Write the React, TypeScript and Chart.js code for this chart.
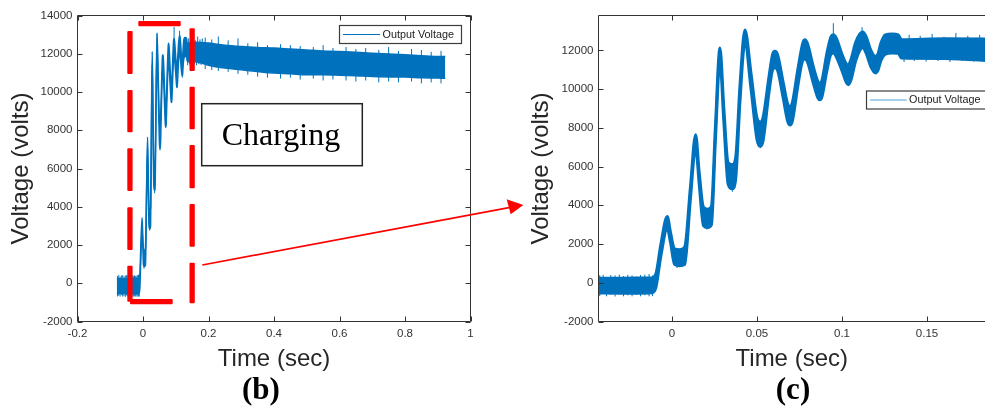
import React, { useEffect, useRef } from 'react';
import { Chart, registerables } from 'chart.js';
Chart.register(...registerables);

// ---- Data ----
// Envelope of the noisy output-voltage trace: time (s), upper edge (V), lower edge (V)
const envT = [
  -0.0797, -0.06, -0.04, -0.02, -0.012, -0.0095, -0.0066, -0.0028, -0.0008, 0.0015,
  0.0045, 0.0075, 0.0108, 0.0139, 0.016, 0.0185, 0.021, 0.0232, 0.0255, 0.0282,
  0.0305, 0.033, 0.0355, 0.0375, 0.04, 0.0429, 0.0465, 0.05, 0.0518, 0.0535,
  0.057, 0.0592, 0.0606, 0.0622, 0.0655, 0.068, 0.0694, 0.0708, 0.074, 0.077,
  0.0782, 0.0797, 0.083, 0.0858, 0.087, 0.0882, 0.091, 0.0935, 0.0949, 0.0965,
  0.1, 0.1025, 0.1037, 0.1052, 0.108, 0.1105, 0.1122, 0.114, 0.117, 0.1195,
  0.1208, 0.123, 0.1255, 0.1295, 0.133, 0.135, 0.16, 0.19, 0.2, 0.25,
  0.3, 0.35, 0.4, 0.45, 0.5, 0.55, 0.6, 0.65, 0.7, 0.75,
  0.8, 0.85, 0.9, 0.923,
];
const envUpper = [
  240, 240, 230, 240, 250, 450, 1960, 3420, 2560, 1750,
  1700, 1850, 4900, 7640, 5700, 3900, 3800, 3950, 8000, 12120,
  9000, 6200, 6100, 6500, 10200, 13050, 10800, 8500, 8300, 8500,
  10600, 11800, 11950, 11750, 10300, 9250, 9100, 9300, 11000, 12400,
  12550, 12350, 11200, 10400, 10300, 10450, 11800, 12700, 12800, 12650,
  11800, 11300, 11250, 11500, 12400, 12850, 12950, 12750, 12000, 11700,
  11750, 12400, 12800, 12850, 12800, 12550, 12600, 12580, 12560, 12450,
  12380, 12330, 12300, 12250, 12200, 12150, 12120, 12080, 12030, 11990,
  11950, 11900, 11860, 11850,
];
const envLower = [
  -540, -540, -530, -540, -520, -250, 1360, 2800, 2050, 950,
  880, 950, 4300, 7000, 5100, 2950, 2850, 3000, 7300, 11450,
  8300, 5100, 4850, 5400, 9400, 12400, 10000, 7400, 7050, 7300,
  9800, 11000, 11100, 10950, 9500, 8350, 8150, 8350, 10150, 11500,
  11550, 11400, 10350, 9550, 9450, 9600, 10900, 11800, 11860, 11700,
  10950, 10350, 10230, 10450, 11450, 12000, 12150, 11900, 11150, 10850,
  10900, 11500, 11800, 11860, 11850, 11600, 11580, 11450, 11400, 11250,
  11160, 11070, 10990, 10950, 10900, 10900, 10880, 10850, 10810, 10790,
  10780, 10750, 10730, 10720,
];
// Noise spikes sticking out of the band: time (s), low (V), high (V)
const spikeT = [
  -0.078, -0.074, -0.07, -0.066, -0.062, -0.058, -0.054, -0.05, -0.046, -0.0425,
  -0.0405, -0.0385, -0.036, -0.0335, -0.031, -0.0285, -0.026, -0.0235, -0.021, -0.0185,
  -0.016, -0.0135, -0.0115, 0.003, 0.0204, 0.0355, 0.0428, 0.0519, 0.0949, 0.1118,
  0.12, 0.1365, 0.1395, 0.1425, 0.146, 0.1495, 0.153, 0.1565, 0.16, 0.1635,
  0.167, 0.1705, 0.174, 0.1775, 0.181, 0.19, 0.21, 0.23, 0.26, 0.29,
  0.32, 0.35, 0.38, 0.42, 0.45, 0.48, 0.52, 0.55, 0.58, 0.62,
  0.65, 0.68, 0.72, 0.75, 0.78, 0.82, 0.85, 0.88, 0.91,
];
const spikeLo = [
  -690, -650, -700, -620, -700, -660, -710, -640, -700, -690,
  -560, -700, -620, -710, -600, -700, -650, -700, -620, -700,
  -640, -700, -690, 760, 2750, 4700, 12500, 6950, 12700, 12800,
  10750, 11400, 11700, 11450, 11600, 11420, 11700, 11450, 11650, 11400,
  11700, 11450, 11650, 11420, 11700, 11200, 11150, 11100, 11050, 10950,
  10900, 10800, 10750, 10700, 10750, 10650, 10700, 10600, 10650, 10600,
  10550, 10600, 10500, 10550, 10500, 10550, 10450, 10500, 10450,
];
const spikeHi = [
  380, 420, 350, 400, 420, 360, 400, 430, 380, 390,
  410, 300, 400, 380, 420, 350, 410, 380, 320, 400,
  420, 450, 380, 1200, 3300, 5300, 13100, 7600, 13400, 13200,
  11200, 12400, 12800, 12300, 12750, 12200, 12850, 12300, 12700, 12300,
  12900, 12300, 12750, 12300, 12800, 12850, 12750, 12900, 12700, 12800,
  12550, 12600, 12450, 12500, 12450, 12400, 12350, 12450, 12300, 12350,
  12250, 12300, 12200, 12350, 12150, 12250, 12200, 12100, 12150,
];
const seriesName = 'Output Voltage';
const xTicksB = [-0.2, 0, 0.2, 0.4, 0.6, 0.8, 1];
const yTicksB = [-2000, 0, 2000, 4000, 6000, 8000, 10000, 12000, 14000];
const xTicksC = [0, 0.05, 0.1, 0.15];
const yTicksC = [-2000, 0, 2000, 4000, 6000, 8000, 10000, 12000];
const xTitle = 'Time (sec)';
const yTitle = 'Voltage (volts)';

// ---- Styles ----
const BLUE = '#0072BD';
const AXIS = '#333333';
const SANS = "'Liberation Sans', Arial, Helvetica, sans-serif";
const SERIF = "'Liberation Serif', 'Times New Roman', serif";

type Panel = {
  width: number; xMin: number; xMax: number; yMin: number; yMax: number;
  xTicks: number[]; yTicks: number[]; yAxisWidth: number; padRight: number;
  yTitlePad: number; lineWidth: number; drawRight: boolean;
  legend: { x1: number; y1: number; x2: number; y2: number; lx1: number; lx2: number; ly: number; tx: number; color: string };
};

const panelB: Panel = {
  width: 490, xMin: -0.2, xMax: 1, yMin: -2000, yMax: 14000,
  xTicks: xTicksB, yTicks: yTicksB, yAxisWidth: 77.5, padRight: 19.5,
  yTitlePad: 7.3, lineWidth: 1.5, drawRight: true,
  legend: { x1: 339.5, y1: 25.5, x2: 461.5, y2: 43.5, lx1: 343, lx2: 380, ly: 34.5, tx: 382.5, color: BLUE },
};
const panelC: Panel = {
  width: 495, xMin: -0.043235, xMax: 0.184118, yMin: -2000, yMax: 13800,
  xTicks: xTicksC, yTicks: yTicksC, yAxisWidth: 108.5, padRight: 0,
  yTitlePad: 37.3, lineWidth: 3, drawRight: false,
  legend: { x1: 376.5, y1: 91, x2: 520, y2: 109, lx1: 380, lx2: 416.7, ly: 100, tx: 419, color: '#4f9fd8' },
};

const fmt = (v: number) => String(Math.round(v * 10000) / 10000);

function makeConfig(p: Panel): any {
  const upper = envT.map((t, i) => ({ x: t, y: envUpper[i] }));
  const lower = envT.map((t, i) => ({ x: t, y: envLower[i] }));
  const spikes: any[] = [];
  spikeT.forEach((t, i) => {
    spikes.push({ x: t, y: spikeLo[i] }, { x: t, y: spikeHi[i] }, { x: t, y: null });
  });
  const boxPlugin = {
    id: 'matlabBox',
    afterDraw(chart: any) {
      const { ctx, chartArea: a } = chart;
      const xs = chart.scales.x;
      const ys = chart.scales.y;
      ctx.save();
      ctx.strokeStyle = AXIS;
      ctx.lineWidth = 1;
      ctx.beginPath();
      ctx.moveTo(a.left, a.bottom);
      ctx.lineTo(a.left, a.top);
      ctx.lineTo(a.right, a.top);
      if (p.drawRight) ctx.lineTo(a.right, a.bottom);
      else ctx.moveTo(a.right, a.bottom);
      ctx.lineTo(a.left, a.bottom);
      for (const v of p.xTicks) {
        const px = Math.round(xs.getPixelForValue(v)) + 0.5;
        ctx.moveTo(px, a.bottom); ctx.lineTo(px, a.bottom - 5);
        ctx.moveTo(px, a.top); ctx.lineTo(px, a.top + 5);
      }
      for (const v of p.yTicks) {
        const py = Math.round(ys.getPixelForValue(v)) + 0.5;
        ctx.moveTo(a.left, py); ctx.lineTo(a.left + 5, py);
        if (p.drawRight) { ctx.moveTo(a.right, py); ctx.lineTo(a.right - 5, py); }
      }
      ctx.stroke();
      // legend
      const L = p.legend;
      ctx.fillStyle = '#ffffff';
      ctx.fillRect(L.x1, L.y1, L.x2 - L.x1, L.y2 - L.y1);
      ctx.strokeStyle = '#3c3c3c';
      ctx.lineWidth = 1.2;
      ctx.strokeRect(L.x1, L.y1, L.x2 - L.x1, L.y2 - L.y1);
      ctx.strokeStyle = L.color;
      ctx.lineWidth = 1.2;
      ctx.beginPath();
      ctx.moveTo(L.lx1, L.ly); ctx.lineTo(L.lx2, L.ly);
      ctx.stroke();
      ctx.fillStyle = '#1a1a1a';
      ctx.font = `10.8px ${SANS}`;
      ctx.textBaseline = 'middle';
      ctx.textAlign = 'left';
      ctx.fillText(seriesName, L.tx, L.ly + 0.5);
      ctx.restore();
    },
  };
  const tickFont = { family: SANS, size: 11.5 };
  const grid = { display: false, drawTicks: false, tickLength: 0 };
  return {
    type: 'line',
    data: {
      datasets: [
        { label: seriesName, data: upper, borderColor: BLUE, backgroundColor: BLUE, borderWidth: p.lineWidth, pointRadius: 0, fill: '+1', cubicInterpolationMode: 'monotone' },
        { label: seriesName + ' (lower)', data: lower, borderColor: BLUE, backgroundColor: BLUE, borderWidth: p.lineWidth, pointRadius: 0, fill: false, cubicInterpolationMode: 'monotone' },
        { label: seriesName + ' (spikes)', data: spikes, borderColor: BLUE, borderWidth: 1, pointRadius: 0, fill: false, tension: 0, spanGaps: false },
      ],
    },
    options: {
      animation: false,
      responsive: false,
      events: [],
      layout: { padding: { top: 15.5, right: p.padRight, left: 0, bottom: 0 } },
      plugins: { legend: { display: false }, tooltip: { enabled: false } },
      scales: {
        x: {
          type: 'linear', min: p.xMin, max: p.xMax,
          afterBuildTicks: (s: any) => { s.ticks = p.xTicks.map((v) => ({ value: v })); },
          afterFit: (s: any) => { s.height = 87.5; },
          ticks: { callback: (v: any) => fmt(Number(v)), font: tickFont, color: '#333333', padding: 5.5, maxRotation: 0, autoSkip: false },
          grid, border: { display: false },
          title: { display: true, text: xTitle, font: { family: SANS, size: 24 }, color: '#262626', padding: { top: 0, bottom: 35.6 } },
        },
        y: {
          type: 'linear', min: p.yMin, max: p.yMax,
          afterBuildTicks: (s: any) => { s.ticks = p.yTicks.map((v) => ({ value: v })); },
          afterFit: (s: any) => { s.width = p.yAxisWidth; },
          ticks: { callback: (v: any) => fmt(Number(v)), font: tickFont, color: '#333333', padding: 5, autoSkip: false },
          grid, border: { display: false },
          title: { display: true, text: yTitle, font: { family: SANS, size: 24 }, color: '#262626', padding: { top: p.yTitlePad, bottom: 0 } },
        },
      },
    },
    plugins: [boxPlugin],
  };
}

// Red annotation dashes around the charging interval (decoration, not data)
const dashRects = [
  [127.3, 31, 5.3, 43], [127.3, 90, 5.3, 42.3], [127.3, 148.3, 5.3, 42.7], [127.3, 207.3, 5.3, 42.7], [127.3, 265.7, 5.3, 36],
  [189.5, 28.3, 5.3, 42.7], [189.5, 86.7, 5.3, 42.6], [189.5, 145, 5.3, 43.3], [189.5, 204, 5.3, 42.7], [189.5, 262.7, 5.3, 40.6],
  [138.3, 21, 42.4, 5.2], [130, 299, 42.7, 5.3],
];

export default function App() {
  const refB = useRef<HTMLCanvasElement>(null);
  const refC = useRef<HTMLCanvasElement>(null);
  useEffect(() => {
    const cb = new Chart(refB.current as HTMLCanvasElement, makeConfig(panelB));
    const cc = new Chart(refC.current as HTMLCanvasElement, makeConfig(panelC));
    return () => { cb.destroy(); cc.destroy(); };
  }, []);
  return (
    <div style={{ position: 'absolute', left: 0, top: 0, width: 985, height: 409, overflow: 'hidden', background: '#ffffff' }}>
      <canvas ref={refB} width={490} height={409} style={{ position: 'absolute', left: 0, top: 0, width: 490, height: 409 }} />
      <canvas ref={refC} width={495} height={409} style={{ position: 'absolute', left: 490, top: 0, width: 495, height: 409 }} />
      <svg width={985} height={409} style={{ position: 'absolute', left: 0, top: 0, pointerEvents: 'none' }}>
        {dashRects.map((r, i) => (
          <rect key={i} x={r[0]} y={r[1]} width={r[2]} height={r[3]} rx={1} fill="#ff0000" />
        ))}
        <line x1={202.3} y1={265} x2={509} y2={207.6} stroke="#ff0000" strokeWidth={1.7} />
        <polygon points="523.3,205 506.7,199.3 510.7,214.3" fill="#ff0000" />
        <rect x={201.7} y={103.7} width={160.6} height={62} fill="#ffffff" stroke="#222222" strokeWidth={1.5} />
        <text x={281} y={145} textAnchor="middle" fontFamily={SERIF} fontSize={32} fill="#000000">Charging</text>
        <text x={261} y={399} textAnchor="middle" fontFamily={SERIF} fontSize={31} fontWeight="bold" fill="#000000">(b)</text>
        <text x={793} y={399} textAnchor="middle" fontFamily={SERIF} fontSize={31} fontWeight="bold" fill="#000000">(c)</text>
      </svg>
    </div>
  );
}
